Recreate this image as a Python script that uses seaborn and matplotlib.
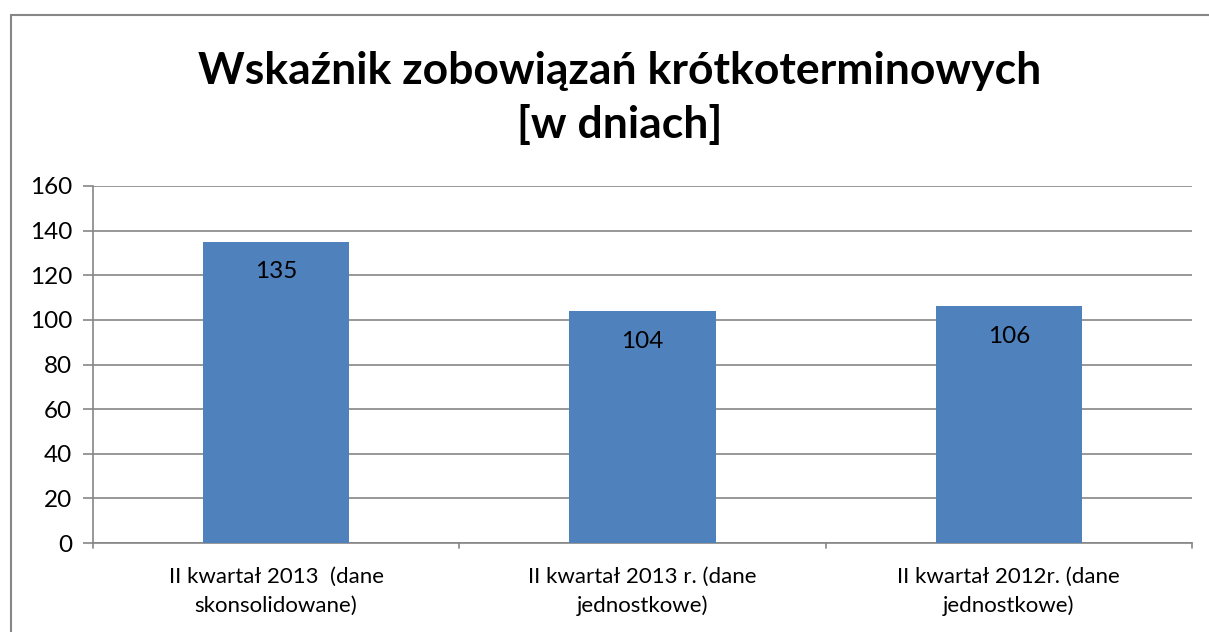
import matplotlib
matplotlib.use("Agg")
import matplotlib.pyplot as plt
import seaborn as sns
import pandas as pd

# Data
categories = [
    "II kwartał 2013  (dane\nskonsolidowane)",
    "II kwartał 2013 r. (dane\njednostkowe)",
    "II kwartał 2012r. (dane\njednostkowe)",
]
values = [135, 104, 106]
y_ticks = [0, 20, 40, 60, 80, 100, 120, 140, 160]

df = pd.DataFrame({"kategoria": categories, "dni": values})

sns.set_theme(style="white")
plt.rcParams["font.family"] = ["Lato", "DejaVu Sans"]

W, H = 1209, 632
fig = plt.figure(figsize=(W / 100, H / 100), dpi=100)
ax = fig.add_axes([93 / W, 1 - 543 / H, (1192 - 93) / W, (543 - 186) / H])

sns.barplot(data=df, x="kategoria", y="dni", color="#4F81BD", width=0.4,
            saturation=1, linewidth=0, ax=ax, zorder=3)

ax.set_ylim(0, 160)
ax.set_xlim(-0.5, 2.5)
ax.set_yticks(y_ticks)
ax.yaxis.grid(True, color="#868686", linewidth=1.2, zorder=0)
ax.set_xlabel("")
ax.set_ylabel("")

for s in ["top", "right"]:
    ax.spines[s].set_visible(False)
for s in ["left", "bottom"]:
    ax.spines[s].set_color("#868686")
    ax.spines[s].set_linewidth(1.2)

ax.tick_params(axis="y", left=True, length=7, width=1.2, color="#868686",
               labelsize=17.5, pad=8, labelcolor="black")
ax.tick_params(axis="x", bottom=False, labelsize=16, pad=11, labelcolor="black")
for lbl in ax.get_xticklabels():
    lbl.set_linespacing(1.55)

# category boundary ticks on the x axis
for xb in [-0.5, 0.5, 1.5, 2.5]:
    ax.plot([xb, xb], [0, -2.2], color="#868686", lw=1.2, clip_on=False, zorder=4)

for i, v in enumerate(values):
    ax.text(i, v - 13.5, str(v), ha="center", va="center", fontsize=17.5, color="black", zorder=5)

fig.text(620 / W, 1 - 98 / H, "Wskaźnik zobowiązań krótkoterminowych\n[w dniach]",
         ha="center", va="center", fontsize=32, fontweight="bold", linespacing=1.38,
         color="black")

# outer chart frame
fig.add_artist(plt.Line2D([11 / W, 11 / W], [0, 1 - 15 / H], color="#868686", lw=1.5,
                          transform=fig.transFigure))
fig.add_artist(plt.Line2D([11 / W, 1], [1 - 15 / H, 1 - 15 / H], color="#868686", lw=1.5,
                          transform=fig.transFigure))

fig.savefig("out.png", dpi=100)
